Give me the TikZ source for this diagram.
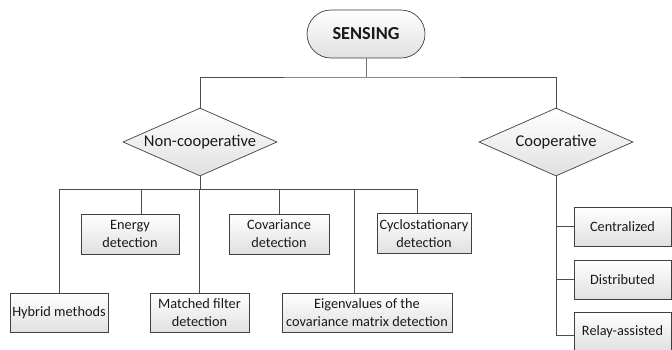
\documentclass[tikz,border=0pt]{standalone}
\usepackage{fontspec}
\setmainfont{Carlito}
\usetikzlibrary{shapes.geometric,calc}
\begin{document}
\begin{tikzpicture}[x=1pt,y=-1pt,
  every node/.style={font=\fontsize{14.3}{18}\selectfont, text=black!90, inner sep=0pt, align=center},
  shadebox/.style={draw=black!75, line width=0.7pt, top color=white, bottom color=black!12},
  leaf/.style={shadebox, rectangle, minimum height=39pt},
  choice/.style={shadebox, diamond, minimum width=154pt, minimum height=68pt},
  choicetext/.style={font=\fontsize{16.5}{18}\selectfont},
  link/.style={draw=black!70, line width=0.7pt},
]
\clip (0,0) rectangle (672,349);
\useasboundingbox (0,0) rectangle (672,349);
\fill[white] (0,0) rectangle (672,349);

\node[shadebox, rectangle, rounded corners=24pt, minimum width=118pt, minimum height=48pt,
  font=\fontsize{18.3}{20}\selectfont\bfseries] (sensing) at (366,34) {SENSING};

\node[choice] (nonc) at (200,142) {};
\node[choicetext] (nonct) at (nonc) {Non-cooperative};
\node[choice] (coop) at (556,142) {};
\node[choicetext] (coopt) at (coop) {Cooperative};

\node[leaf, minimum width=98pt, minimum height=40pt] (energy) at (130,234) {Energy\\detection};
\node[leaf, minimum width=100pt, minimum height=40pt] (cov) at (279,234) {Covariance\\detection};
\node[leaf, minimum width=94pt, minimum height=40pt] (cyclo) at (424,233.5) {Cyclostationary\\detection};
\node[leaf, minimum width=98pt] (hybrid) at (59,312.5) {Hybrid methods};
\node[leaf, minimum width=99pt] (matched) at (199.5,312.5) {Matched filter\\detection};
\node[leaf, minimum width=170pt] (eigen) at (367,312.5) {Eigenvalues of the\\covariance matrix detection};

\node[leaf, minimum width=97pt] (central) at (622.5,226.5) {Centralized};
\node[leaf, minimum width=97pt] (distrib) at (622.5,279.5) {Distributed};
\node[leaf, minimum width=97pt] (relay) at (622.5,331.5) {Relay-assisted};

% top level
\coordinate (tb) at (366,77);
\draw[draw=black!55, line width=0.7pt] (sensing.south) -- (tb);
\draw[link] (nonc.north) |- (tb) -| (coop.north);

% non-cooperative bus
\coordinate (nbL) at (59,189);
\coordinate (nbR) at (417,189);
\draw[link] (nbL) -- (nbR);
\draw[link] (nonc.south) -- (nonc.south |- nbL);
\draw[link] (hybrid.north) -- (nbL);
\coordinate (e1) at ([xshift=11pt]energy.north);
\draw[link] (e1) -- (e1 |- nbL);
\draw[link] (matched.north) -- (matched.north |- nbL);
\draw[link] (cov.north) -- (cov.north |- nbL);
\coordinate (g1) at ([xshift=-13pt]eigen.north);
\draw[link] (g1) -- (g1 |- nbL);
\coordinate (c1) at ([xshift=-7pt]cyclo.north);
\draw[link] (c1) -- (nbR);

% cooperative bus
\coordinate (r1) at ([yshift=-3.5pt]relay.west);
\draw[link] (coop.south) |- (r1);
\draw[link] (central.west) -- (central.west -| coop.south);
\draw[link] (distrib.west) -- (distrib.west -| coop.south);
\end{tikzpicture}
\end{document}
